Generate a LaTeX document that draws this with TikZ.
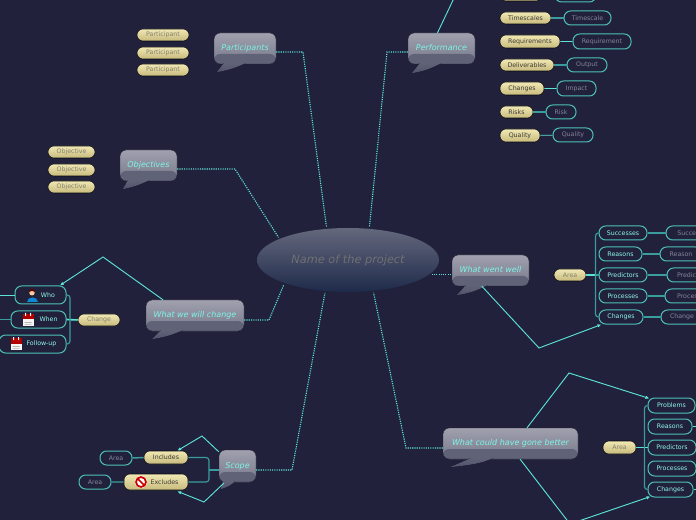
\documentclass[tikz,border=0pt]{standalone}
\usepackage{fontspec}
\setmainfont{DejaVu Sans}
\usetikzlibrary{arrows.meta,shapes.geometric}
\definecolor{bg}{HTML}{21213B}
\definecolor{cy}{HTML}{5CE3D6}
\definecolor{cydim}{HTML}{3A9C9C}
\definecolor{txtc}{HTML}{7DF5E6}
\definecolor{sandt}{HTML}{F0E8B4}
\definecolor{sandb}{HTML}{C8BA7C}
\definecolor{bubt}{HTML}{A0A0AE}
\definecolor{bubb}{HTML}{777A8C}
\definecolor{bandc}{HTML}{606378}
\definecolor{tailb}{HTML}{50526A}
\definecolor{elt}{HTML}{64687C}
\definecolor{elb}{HTML}{1E2A4A}
\definecolor{nametxt}{HTML}{707074}
\definecolor{sandtxt}{HTML}{3C3A34}
\definecolor{sandgt}{HTML}{85826F}
\definecolor{tealgt}{HTML}{85859A}
\tikzset{
 x=0.75pt,y=-0.75pt,
 sandp/.style={rectangle,rounded corners=4.4pt,inner sep=0pt,top color=sandt,bottom color=sandb,draw=black!70!bg,line width=.4pt},
 sand/.style={sandp,text=sandtxt,font=\fontsize{4.7}{6}\selectfont},
 sandg/.style={sandp,text=sandgt,font=\fontsize{4.7}{6}\selectfont},
 tealp/.style={rectangle,rounded corners=5pt,inner sep=0pt,draw=cy!85!black,line width=.75pt,fill=bg,text=txtc!85!white,font=\fontsize{4.7}{6}\selectfont},
 tealg/.style={tealp,text=tealgt},
 bub/.style={rectangle,rounded corners=4.5pt,inner sep=0pt,draw=black!20!bg,line width=.3pt,top color=bubt,bottom color=bubb,text=txtc,font=\fontsize{6}{8}\selectfont\itshape,
  path picture={\fill[bandc] (path picture bounding box.south west) rectangle ([yshift=7.5pt]path picture bounding box.south east);}},
 bubtail/.style={top color=bandc,bottom color=tailb},
 dots/.style={cy,line width=.85pt,dash pattern=on .85pt off .85pt},
 lk/.style={cy,line width=.65pt},
 lkb/.style={cydim,line width=1.1pt},
 lkh/.style={cy,line width=1.2pt},
 brk/.style={cydim,line width=.9pt,rounded corners=2.2pt},
 arr/.style={cy,line width=.7pt,-{Latex[length=3pt,width=2.6pt]}},
 arrn/.style={cy,line width=.7pt},
}
\newcommand\bx[7]{\node[#2,minimum width={(#5-#3)*0.75pt},minimum height={(#6-#4)*0.75pt}] (#1) at ({(#3+#5)/2},{(#4+#6)/2}) {#7};}
\newcommand\bt[1]{\raisebox{-1.6pt}[0pt][0pt]{#1}}
\newcommand\tailof[4]{\fill[bubtail] ([shift={(#2,-1)}]#1.south west) -- ([shift={(#3,#4)}]#1.south west) .. controls ([shift={(#2+10,#4-3)}]#1.south west) and ([shift={(#2+14,2)}]#1.south west) .. ([shift={(#2+22,-1)}]#1.south west) -- cycle;}
\newcommand\calicon[2]{\begin{scope}[shift={(#1,#2)}]
 \fill[white!92!gray] (-5.5,-6) rectangle (5.5,6);
 \fill[red!70!black] (-5.5,-6) rectangle (5.5,-0.5);
 \fill[gray!60] (-3.5,2) rectangle (3.5,2.8) (-3.5,4) rectangle (3.5,4.7);
 \fill[white] (-3,-7) rectangle (-2,-4) (2,-7) rectangle (3,-4);
\end{scope}}
\begin{document}
\begin{tikzpicture}
\clip (0,0) rectangle (696,520);
\fill[bg] (0,0) rectangle (696,520);
% elbows
\coordinate (e1) at (303,52);
\coordinate (e2) at (387,52);
\coordinate (e3) at (235,169);
\coordinate (e4) at (269,320);
\coordinate (e5) at (406,448);
\coordinate (e6) at (292,470);
% central node
\node[ellipse,minimum width=136.5pt,minimum height=48pt,inner sep=0pt,outer sep=1.5pt,top color=elt,bottom color=elb,text=nametxt,font=\fontsize{8.5}{10}\selectfont\itshape] (c) at (348,260) {Name of the project};
% main bubbles
\bx{part}{bub}{214}{33}{276}{64}{\bt{Participants}}
\bx{obj}{bub}{120}{150}{177}{181}{\bt{Objectives}}
\bx{perf}{bub}{408}{33}{475}{64}{\bt{Performance}}
\bx{chg}{bub}{146}{300}{244}{331}{\bt{What we will change}}
\bx{well}{bub}{452}{255}{529}{286}{\bt{What went well}}
\bx{could}{bub}{443}{428}{578}{459}{\bt{What could have gone better}}
\bx{scope}{bub}{219}{450}{256}{482}{\bt{Scope}}
\tailof{part}{10}{3}{8}
\tailof{obj}{8}{3}{8}
\tailof{perf}{12}{4}{9}
\tailof{chg}{15}{6}{8}
\tailof{well}{14}{5}{9}
\tailof{could}{28}{7}{8}
\fill[bubtail] ([shift={(4,-1)}]scope.south west) -- ([shift={(2,7)}]scope.south west) .. controls ([shift={(8,5)}]scope.south west) and ([shift={(13,3)}]scope.south west) .. ([shift={(16,-1)}]scope.south west) -- cycle;
% dotted trunk connectors
\draw[dots] (part.east|-e1) -- (e1) -- (c.123);
\draw[dots] (perf.west|-e2) -- (e2) -- (c.57.5);
\draw[dots] (obj.east|-e3) -- (e3) -- (c.162);
\draw[dots] (chg.east|-e4) -- (e4) -- (c.201);
\draw[dots] (c.-10) -- (well.west|-c.-10);
\draw[dots] (could.west|-e5) -- (e5) -- (c.-52.6);
\draw[dots] (scope.east|-e6) -- (e6) -- (c.235);
% Participants / Objectives
\bx{p1}{sandg}{137}{29}{189}{41}{Participant}
\bx{p2}{sandg}{137}{47}{189}{59}{Participant}
\bx{p3}{sandg}{137}{64}{189}{76}{Participant}
\bx{o1}{sandg}{48}{146}{95}{158}{Objective}
\bx{o2}{sandg}{48}{164}{95}{176}{Objective}
\bx{o3}{sandg}{48}{181}{95}{193}{Objective}
% Performance
\bx{q0}{sand}{500}{-11}{542}{1}{}
\bx{r0}{tealg}{555}{-12}{596}{2}{}
\bx{q1}{sand}{500}{12}{551}{24}{Timescales}
\bx{r1}{tealg}{564}{11}{611}{25}{Timescale}
\bx{q2}{sand}{500}{35}{560}{48}{Requirements}
\bx{r2}{tealg}{573}{34}{631}{49}{Requirement}
\bx{q3}{sand}{500}{59}{554}{71}{Deliverables}
\bx{r3}{tealg}{567}{58}{607}{72}{Output}
\bx{q4}{sand}{500}{82}{544}{95}{Changes}
\bx{r4}{tealg}{557}{81}{596}{96}{Impact}
\bx{q5}{sand}{500}{106}{533}{118}{Risks}
\bx{r5}{tealg}{546}{105}{576}{119}{Risk}
\bx{q6}{sand}{500}{129}{540}{142}{Quality}
\bx{r6}{tealg}{553}{128}{593}{142}{Quality}
\draw[lkb] (q1)--(r1) (q3)--(r3) (q5)--(r5);
\draw[lk] (q2)--(r2) (q4)--(r4) (q6)--(r6);
\coordinate (pv) at (455,-4);
\draw[arrn] ([xshift=-3pt]perf.north) -- (pv);
% What we will change
\bx{ch}{sandg}{78}{314}{120}{326}{Change}
\bx{who}{tealp}{15}{286}{66}{304}{\hspace*{15\dimexpr0.75pt\relax}Who}
\bx{when}{tealp}{11}{311}{66}{328}{\hspace*{20\dimexpr0.75pt\relax}When}
\bx{fu}{tealp}{-1}{335}{66}{353}{\hspace*{18\dimexpr0.75pt\relax}Follow-up}
\coordinate (wl) at (-2,295);
\coordinate (wnl) at (-2,319.5);
\draw[lk] (who.west) -- (wl);
\draw[lkb] (when.west) -- (wnl);
\draw[lkh] (ch.west) -- (when.east);
\draw[brk] (who.east) -- ++(3.5,0) |- (fu.east);
\coordinate (a1) at (103,257);
\draw[arr] ([xshift=-24pt]chg.north) -- (a1) -- ([xshift=14.5pt]who.north);
% person icon
\begin{scope}[shift={(32,295)}]
 \fill[cyan!70!blue] (-5.5,7) .. controls (-5.5,1) and (5.5,1) .. (5.5,7) -- cycle;
 \fill[orange!40!white] (0,-2.2) circle (2.7);
 \fill[red!40!black] (-3,-3) .. controls (-2,-7) and (2,-7) .. (3,-3) .. controls (1,-4.5) and (-1,-4.5) .. (-3,-3) -- cycle;
\end{scope}
\calicon{28}{320}
\calicon{16}{344}
% What went well
\bx{ar}{sandg}{554}{269}{586}{281}{Area}
\bx{s1}{tealp}{599}{226}{647}{240}{Successes}
\bx{s2}{tealp}{599}{247}{642}{261}{Reasons}
\bx{s3}{tealp}{599}{268}{647}{282}{Predictors}
\bx{s4}{tealp}{599}{289}{647}{303}{Processes}
\bx{s5}{tealp}{599}{310}{643}{324}{Changes}
\bx{t1}{tealg}{666}{226}{714}{240}{Success}
\bx{t2}{tealg}{660}{247}{702}{261}{Reason}
\bx{t3}{tealg}{667}{268}{715}{282}{Predictor}
\bx{t4}{tealg}{665}{289}{713}{303}{Process}
\bx{t5}{tealg}{661}{310}{703}{324}{Change}
\draw[lkb,line width=.9pt] (s1)--(t1) (s2)--(t2) (s3)--(t3) (s4)--(t4) (s5)--(t5);
\draw[lkh] (ar.east) -- (s3.west);
\draw[brk] (s1.west) -- ++(-3,0) |- (s5.west);
\draw[brk] (s3.west) -- ++(-3,0);
\coordinate (a2) at (539,348);
\draw[arr] ([xshift=-6.5pt]well.south) -- (a2) -- ([shift={(3,0)}]s5.south west);
% What could have gone better
\bx{ar2}{sandg}{603}{441}{636}{454}{Area}
\bx{u1}{tealp}{648}{398}{695}{413}{Problems}
\bx{u2}{tealp}{648}{419}{692}{434}{Reasons}
\bx{u3}{tealp}{648}{440}{696}{455}{Predictors}
\bx{u4}{tealp}{648}{461}{696}{476}{Processes}
\bx{u5}{tealp}{648}{482}{693}{497}{Changes}
\coordinate (v1) at (700,405.5);
\coordinate (v2) at (700,426.5);
\coordinate (v5) at (700,489.5);
\draw[lk] (u1.east)--(v1) (u2.east)--(v2) (u5.east)--(v5);
\draw[lkh] (ar2.east) -- (u3.west);
\draw[brk] (u1.west) -- ++(-3,0) |- (u5.west);
\coordinate (a3) at (569,373);
\coordinate (a4) at (570,524);
\draw[arr] ([xshift=12.4pt]could.north) -- (a3) -- ([shift={(2,1)}]u1.north west);
\draw[arr] ([xshift=7.2pt]could.south) -- (a4) -- ([shift={(3,-1)}]u5.south west);
% Scope
\bx{inc}{sand}{144}{451}{188}{464}{Includes}
\bx{exc}{sand}{124}{474}{188}{490}{\hspace*{17\dimexpr0.75pt\relax}Excludes}
\bx{ia}{tealg}{100}{451}{132}{465}{Area}
\bx{ea}{tealg}{79}{475}{111}{489}{Area}
\draw[lkb] (ia.east)--(inc.west) (ea.east)--(exc.west);
\coordinate (bx) at (209,470);
\draw[brk] (inc.east) -| (bx) |- (exc.east);
\draw[brk] (bx) -- (scope.west|-bx);
\coordinate (a5) at (202,436);
\coordinate (a6) at (204,502);
\draw[arr] ([yshift=-1.5pt]scope.north west) -- (a5) -- ([shift={(-11,0)}]inc.north east);
\draw[arr] ([shift={(5,1)}]scope.south west) -- (a6) -- ([shift={(-11,1)}]exc.south east);
% no entry icon
\begin{scope}[shift={(141,482)}]
 \fill[white] (0,0) circle (6);
 \draw[red!80!black,line width=1.3pt] (0,0) circle (5);
 \draw[red!80!black,line width=1.3pt] (-3.5,-3.5) -- (3.5,3.5);
\end{scope}
\end{tikzpicture}
\end{document}
